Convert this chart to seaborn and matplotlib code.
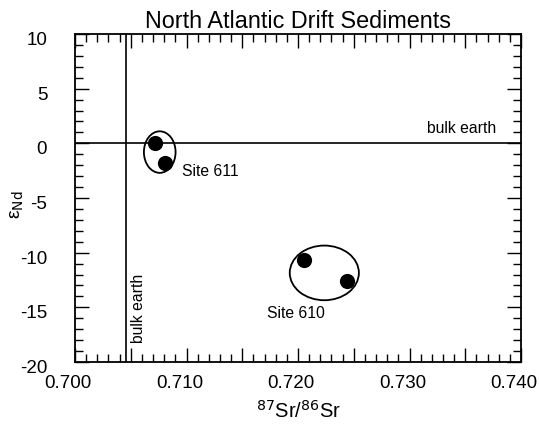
import matplotlib
matplotlib.use("Agg")
import matplotlib.pyplot as plt
import seaborn as sns
import pandas as pd
from matplotlib.patches import Ellipse
from matplotlib.ticker import MultipleLocator
from matplotlib.transforms import ScaledTranslation

sns.set_theme(style="white")
plt.rcParams['font.family'] = ['Liberation Sans', 'DejaVu Sans']
plt.rcParams['axes.unicode_minus'] = False
plt.rcParams['text.color'] = 'black'
plt.rcParams['axes.labelcolor'] = 'black'
plt.rcParams['xtick.color'] = 'black'
plt.rcParams['ytick.color'] = 'black'

# data
sites = ["Site 611", "Site 611", "Site 610", "Site 610"]
sr = [0.7072, 0.7081, 0.7205, 0.7244]
end = [0.0, -1.8, -10.7, -12.6]
bulk_sr = 0.7046
bulk_nd = 0.0
ellipse_centers = [(0.7076, -0.8), (0.72236, -11.85)]
ellipse_sizes = [(0.00284, 3.8), (0.0062, 5.0)]
site_labels = ["Site 611", "Site 610"]
label_pos = [(0.7096, -2.6), (0.7172, -15.6)]
xtick_vals = [0.700, 0.705, 0.710, 0.715, 0.720, 0.725, 0.730, 0.735, 0.740]
xtick_labels = ["0.700", "", "0.710", "", "0.720", "", "0.730", "", "0.740"]
ytick_vals = [-20, -15, -10, -5, 0, 5, 10]
ytick_labels = ["-20", "-15", "-10", "-5", "0", "5", "10"]

df = pd.DataFrame({"sr": sr, "end": end, "site": sites})

fig = plt.figure(figsize=(5.39, 4.26), dpi=100)
ax = fig.add_axes([75/539, 1-362/426, 446/539, 328/426])

sns.scatterplot(data=df, x="sr", y="end", color="black", s=120, edgecolor="black",
                linewidth=0, ax=ax, legend=False, zorder=3)

for (cx, cy), (w, h) in zip(ellipse_centers, ellipse_sizes):
    ax.add_patch(Ellipse((cx, cy), w, h, fill=False, edgecolor="black", lw=1.3, zorder=2))

ax.axvline(bulk_sr, color="black", lw=1.2, zorder=1)
ax.axhline(bulk_nd, color="black", lw=1.2, zorder=1)

for t, (x, y) in zip(site_labels, label_pos):
    ax.text(x, y, t, fontsize=11.3, va="center", ha="left", color="black")
ax.text(0.7378, 1.4, "bulk earth", fontsize=11.3, ha="right", va="center", color="black")
ax.text(0.7057, -18.3, "bulk earth", fontsize=11.3, ha="center", va="bottom",
        rotation=90, color="black")

ax.set_xlim(0.700, 0.740)
ax.set_ylim(-20, 10)
ax.set_xticks(xtick_vals)
ax.set_xticklabels(xtick_labels)
ax.set_yticks(ytick_vals)
ax.set_yticklabels(ytick_labels)
ax.xaxis.set_minor_locator(MultipleLocator(0.001))
ax.yaxis.set_minor_locator(MultipleLocator(1))
ax.tick_params(which="both", direction="in", top=True, right=True, bottom=True, left=True,
               labelsize=13.5, color="black", labelcolor="black", width=1.0)
ax.tick_params(which="major", length=10)
ax.tick_params(axis="x", which="major", pad=9)
ax.tick_params(axis="y", which="major", pad=20)
ax.tick_params(which="minor", length=6)

for lab in ax.get_xticklabels():
    lab.set_transform(lab.get_transform() + ScaledTranslation(-0.07, 0, fig.dpi_scale_trans))
for lab in ax.get_yticklabels():
    lab.set_transform(lab.get_transform() + ScaledTranslation(0, -0.045, fig.dpi_scale_trans))

for s in ax.spines.values():
    s.set_color("black")
    s.set_linewidth(1.3)

ax.set_xlabel("$^{87}$Sr/$^{86}$Sr", fontsize=14.5, labelpad=6, color="black")
ax.set_ylabel("ε$_{\\mathrm{Nd}}$", fontsize=14, labelpad=6, color="black")
ax.yaxis.set_label_coords(-0.11, 0.48)
ax.set_title("North Atlantic Drift Sediments", fontsize=16.8, pad=4, color="black")

fig.savefig("out.png", dpi=100)
